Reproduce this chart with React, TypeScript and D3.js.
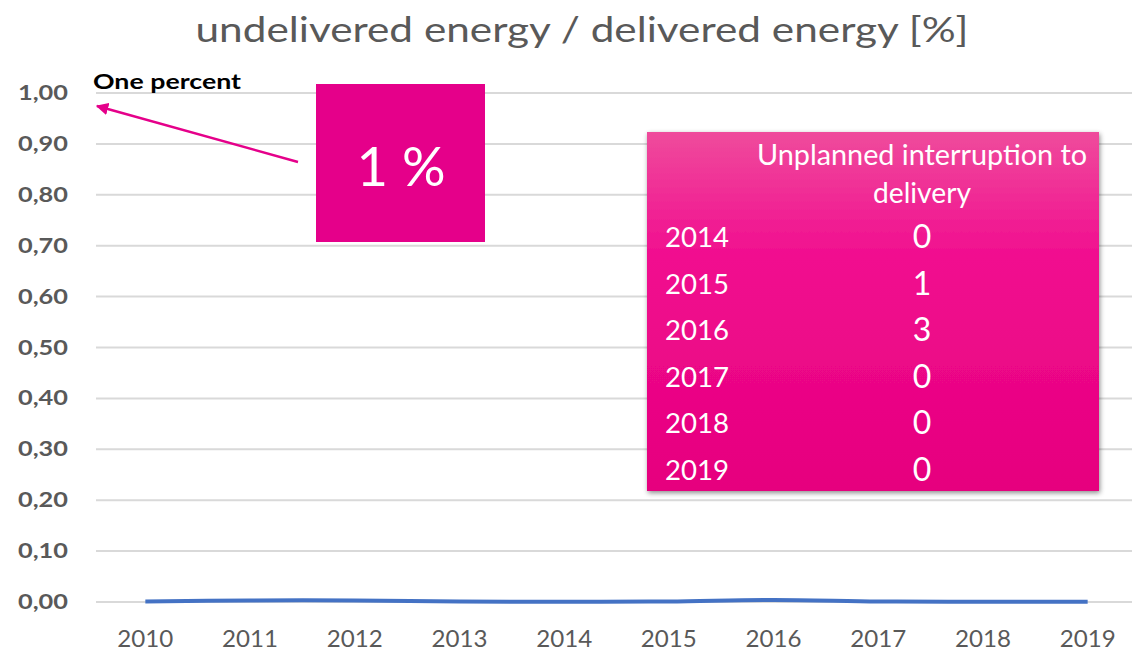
import React from "react";
import * as d3 from "d3";

const years = ["2010", "2011", "2012", "2013", "2014", "2015", "2016", "2017", "2018", "2019"];
const ratioValues = [0.001, 0.003, 0.003, 0.001, 0.0005, 0.001, 0.004, 0.001, 0.0005, 0.0005];
const yTicks = [0, 0.1, 0.2, 0.3, 0.4, 0.5, 0.6, 0.7, 0.8, 0.9, 1.0];
const tableYears = ["2014", "2015", "2016", "2017", "2018", "2019"];
const tableCounts = [0, 1, 3, 0, 0, 0];

const W = 1132;
const H = 653;
const FONT = "Lato, 'Open Sans', sans-serif";

export default function App() {
  const x = d3.scaleBand<string>().domain(years).range([93, 1140]);
  const y = d3.scaleLinear().domain([0, 1]).range([602, 93]);
  const line = d3
    .line<number>()
    .x((_, i) => (x(years[i]) as number) + x.bandwidth() / 2)
    .y((d) => y(d))
    .curve(d3.curveCatmullRom);
  const fmt = (v: number) => v.toFixed(2).replace(".", ",");
  const rowY = d3.scaleLinear().domain([0, 5]).range([247, 480]);

  return (
    <svg
      width={W}
      height={H}
      style={{ position: "absolute", left: 0, top: 0, background: "#fff" }}
      fontFamily={FONT}
    >
      <defs>
        <linearGradient id="tblGrad" x1="0" y1="0" x2="0" y2="1">
          <stop offset="0" stopColor="#EF4B9C" />
          <stop offset="0.35" stopColor="#F10D8F" />
          <stop offset="1" stopColor="#E6007E" />
        </linearGradient>
        <filter id="shadow" x="-10%" y="-10%" width="120%" height="120%">
          <feDropShadow dx="1" dy="2" stdDeviation="2.5" floodColor="#000" floodOpacity="0.45" />
        </filter>
        <marker id="arrowHead" viewBox="0 0 10 10" refX="9" refY="5" markerWidth="5" markerHeight="5" orient="auto">
          <path d="M0,0 L10,5 L0,10 z" fill="#E5008A" />
        </marker>
      </defs>

      <text
        x={582}
        y={42}
        textAnchor="middle"
        fontSize={35}
        fill="#595959"
        textLength={773}
        lengthAdjust="spacingAndGlyphs"
      >
        undelivered energy / delivered energy [%]
      </text>

      {yTicks.map((t) => (
        <g key={t}>
          <line x1={96} x2={W} y1={y(t)} y2={y(t)} stroke="#D9D9D9" strokeWidth={2} />
          <text
            x={68}
            y={y(t) + 7}
            textAnchor="end"
            fontSize={20}
            fontWeight="bold"
            fill="#595959"
            textLength={50}
            lengthAdjust="spacingAndGlyphs"
          >
            {fmt(t)}
          </text>
        </g>
      ))}

      {years.map((yr) => (
        <text
          key={yr}
          x={(x(yr) as number) + x.bandwidth() / 2}
          y={647}
          textAnchor="middle"
          fontSize={23}
          fill="#595959"
          textLength={56}
          lengthAdjust="spacingAndGlyphs"
        >
          {yr}
        </text>
      ))}

      <path d={line(ratioValues) || ""} fill="none" stroke="#4472C4" strokeWidth={4} strokeLinecap="butt" />

      <text
        x={93}
        y={89}
        fontSize={21}
        fontWeight="bold"
        fill="#000"
        textLength={148}
        lengthAdjust="spacingAndGlyphs"
      >
        One percent
      </text>

      <line x1={298} y1={162} x2={97} y2={106} stroke="#E5008A" strokeWidth={2.5} markerEnd="url(#arrowHead)" />

      <rect x={316} y={84} width={169} height={158} fill="#E5008A" />
      <text
        x={401}
        y={186}
        textAnchor="middle"
        fontSize={54}
        fill="#fff"
        textLength={89}
        lengthAdjust="spacingAndGlyphs"
      >
        1 %
      </text>

      <rect x={647} y={132} width={452} height={359} fill="url(#tblGrad)" filter="url(#shadow)" />
      <text
        x={922}
        y={165}
        textAnchor="middle"
        fontSize={28}
        fill="#fff"
        textLength={330}
        lengthAdjust="spacingAndGlyphs"
      >
        Unplanned interruption to
      </text>
      <text x={922} y={203} textAnchor="middle" fontSize={28} fill="#fff" textLength={98} lengthAdjust="spacingAndGlyphs">
        delivery
      </text>
      {tableYears.map((yr, i) => (
        <g key={yr}>
          <text x={665} y={rowY(i)} fontSize={27} fill="#fff" textLength={64} lengthAdjust="spacingAndGlyphs">
            {yr}
          </text>
          <text x={922} y={rowY(i) + 1} textAnchor="middle" fontSize={32} fill="#fff">
            {tableCounts[i]}
          </text>
        </g>
      ))}
    </svg>
  );
}
